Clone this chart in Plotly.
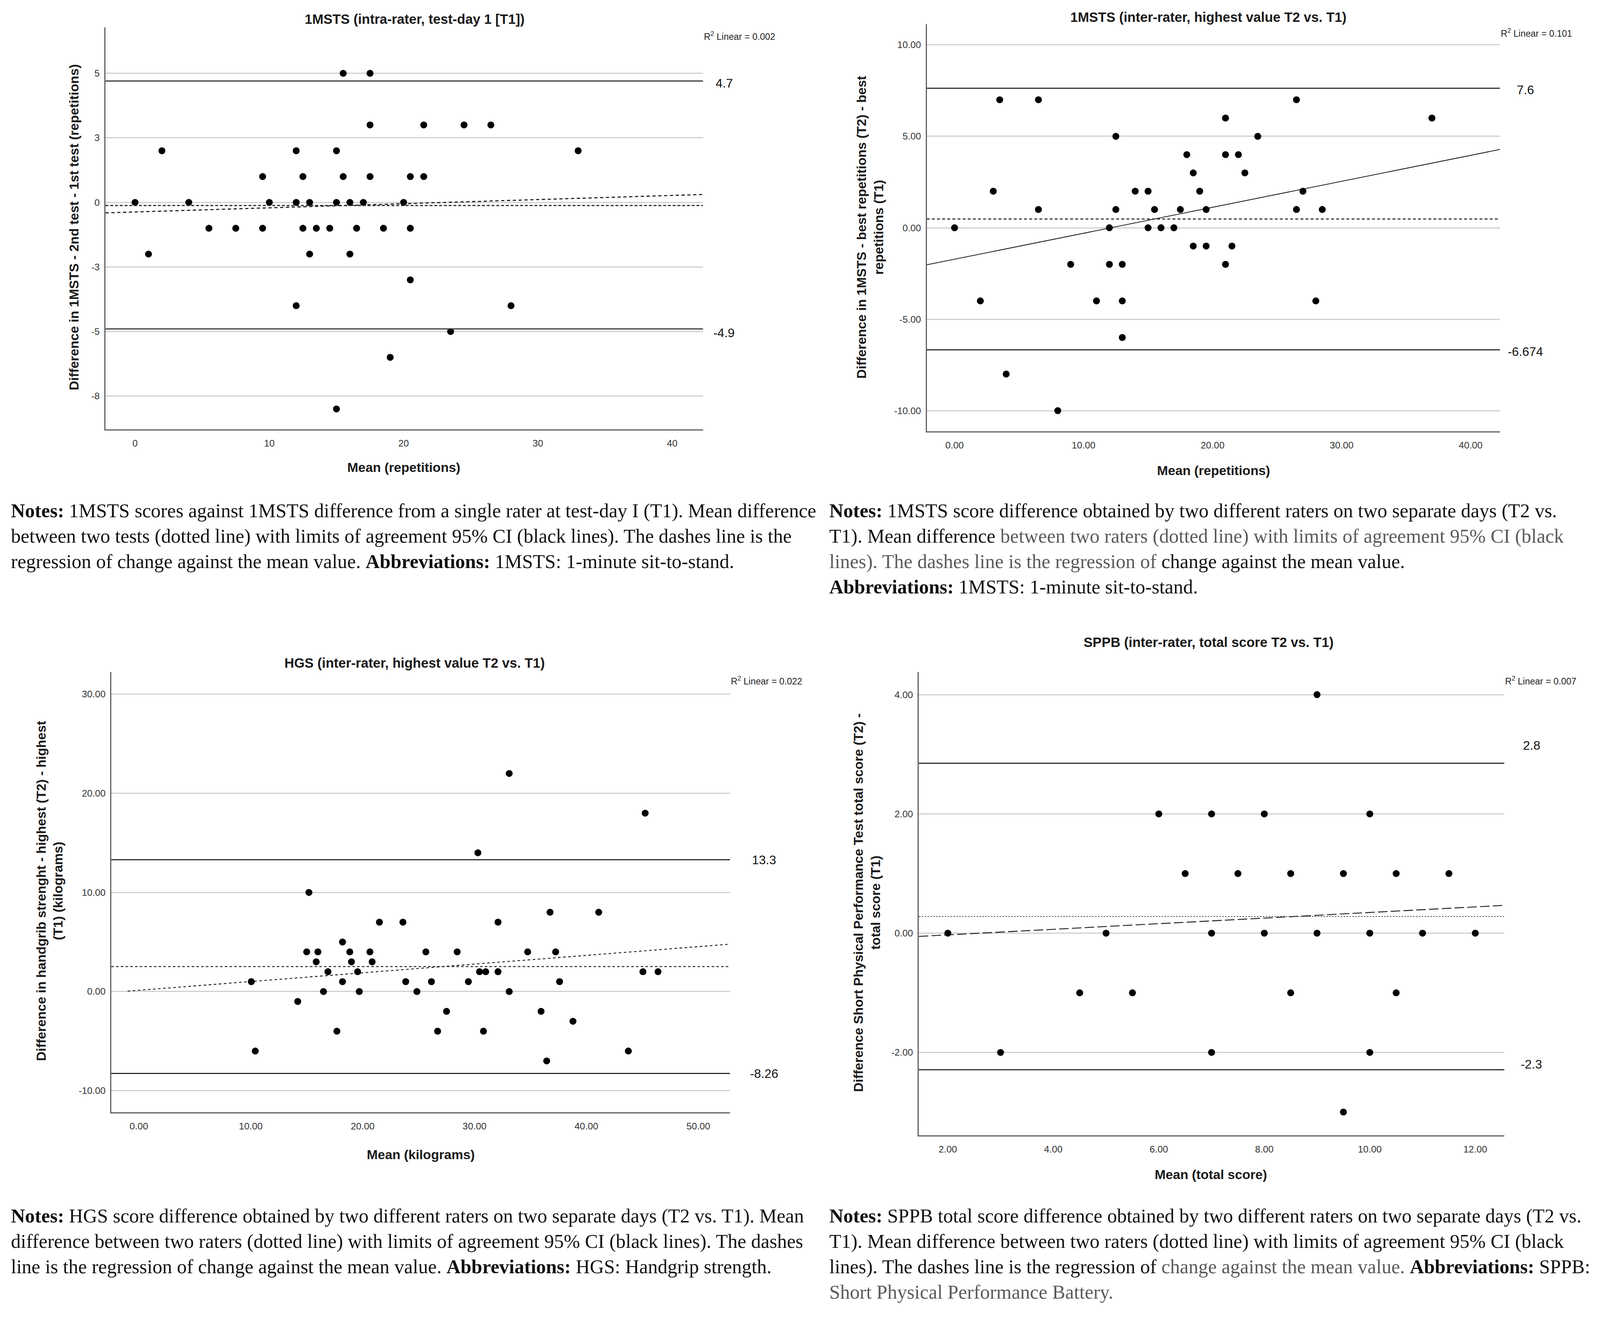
import plotly.graph_objects as go

# Layout is measured in pixels of the 4397x3371 reference and expressed as
# fractions of the page, so the figure fills the browser viewport exactly.
RW, RH = 4397, 3371
KX = 0.9347   # CSS px per reference px (sizes of fonts / marks / lines)
KY = 1.0      # vertical CSS px per reference px (small vertical nudges)


def fx(px):
    return px / RW


def fy(py):
    return 1 - py / RH


def s(v):
    return v * KX


# ---------------- data ----------------
# Panel 1: 1MSTS intra-rater
p1_mean = [15.5, 17.5,
           17.5, 21.5, 24.5, 26.5,
           2, 12, 15, 33,
           9.5, 12.5, 15.5, 17.5, 20.5, 21.5,
           0, 4, 10, 12, 13, 15, 16, 17, 20,
           5.5, 7.5, 9.5, 12.5, 13.5, 14.5, 16.5, 18.5, 20.5,
           1, 13, 16,
           20.5,
           12, 28,
           23.5,
           19,
           15]
p1_diff = [5, 5,
           3, 3, 3, 3,
           2, 2, 2, 2,
           1, 1, 1, 1, 1, 1,
           0, 0, 0, 0, 0, 0, 0, 0, 0,
           -1, -1, -1, -1, -1, -1, -1, -1, -1,
           -2, -2, -2,
           -3,
           -4, -4,
           -5,
           -6,
           -8]
p1_loa = [4.7, -4.9]
p1_loa_labels = ["4.7", "-4.9"]
p1_meandiff = -0.12
p1_reg = (-0.37, 0.016)   # intercept, slope
p1_r2 = "0.002"

# Panel 2: 1MSTS inter-rater
p2_mean = [3.5, 6.5, 26.5,
           21, 37,
           12.5, 23.5,
           18, 21, 22,
           18.5, 22.5,
           3, 14, 15, 19, 27,
           6.5, 12.5, 15.5, 17.5, 19.5, 26.5, 28.5,
           0, 12, 15, 16, 17,
           18.5, 19.5, 21.5,
           9, 12, 13, 21,
           2, 11, 13, 28,
           13,
           4,
           8]
p2_diff = [7, 7, 7,
           6, 6,
           5, 5,
           4, 4, 4,
           3, 3,
           2, 2, 2, 2, 2,
           1, 1, 1, 1, 1, 1, 1,
           0, 0, 0, 0, 0,
           -1, -1, -1,
           -2, -2, -2, -2,
           -4, -4, -4, -4,
           -6,
           -8,
           -10]
p2_loa = [7.63, -6.674]
p2_loa_labels = ["7.6", "-6.674"]
p2_meandiff = 0.48
p2_reg = (-1.72, 0.142)
p2_r2 = "0.101"

# Panel 3: HGS inter-rater
p3_mean = [33.1, 45.25, 30.3, 15.2, 21.5, 23.6, 32.1, 36.75, 41.1, 18.2,
           15.0, 16.0, 18.85, 20.65, 25.65, 28.45, 34.75, 37.25,
           15.85, 19.0, 20.85,
           16.9, 19.55, 30.45, 31.0, 32.1, 45.05, 46.4,
           10.05, 18.2, 23.85, 26.15, 29.45, 37.6,
           16.5, 19.7, 24.85, 33.1,
           14.2,
           27.5, 35.95,
           38.8,
           17.7, 26.7, 30.8,
           10.4, 43.75,
           36.45]
p3_diff = [22, 18, 14, 10, 7, 7, 7, 8, 8, 5,
           4, 4, 4, 4, 4, 4, 4, 4,
           3, 3, 3,
           2, 2, 2, 2, 2, 2, 2,
           1, 1, 1, 1, 1, 1,
           0, 0, 0, 0,
           -1,
           -2, -2,
           -3,
           -4, -4, -4,
           -6, -6,
           -7]
p3_loa = [13.3, -8.26]
p3_loa_labels = ["13.3", "-8.26"]
p3_meandiff = 2.52
p3_reg = (0.13, 0.088)
p3_r2 = "0.022"

# Panel 4: SPPB inter-rater
p4_mean = [9,
           6, 7, 8, 10,
           6.5, 7.5, 8.5, 9.5, 10.5, 11.5,
           2, 5, 7, 8, 9, 10, 11, 12,
           4.5, 5.5, 8.5, 10.5,
           3, 7, 10,
           9.5]
p4_diff = [4,
           2, 2, 2, 2,
           1, 1, 1, 1, 1, 1,
           0, 0, 0, 0, 0, 0, 0, 0,
           -1, -1, -1, -1,
           -2, -2, -2,
           -3]
p4_loa = [2.85, -2.29]
p4_loa_labels = ["2.8", "-2.3"]
p4_meandiff = 0.28
p4_reg = (-0.123, 0.047)
p4_r2 = "0.007"

titles = ["1MSTS (intra-rater, test-day 1 [T1])",
          "1MSTS (inter-rater, highest value T2 vs. T1)",
          "HGS (inter-rater, highest value T2 vs. T1)",
          "SPPB (inter-rater, total score T2 vs. T1)"]
xtitles = ["Mean (repetitions)", "Mean (repetitions)", "Mean (kilograms)", "Mean (total score)"]
ytitles = ["Difference in 1MSTS - 2nd test - 1st test (repetitions)",
           "Difference in 1MSTS - best repetitions (T2) - best<br>repetitions (T1)",
           "Difference in handgrib strenght - highest (T2) - highest<br>(T1) (kilograms)",
           "Difference Short Physical Performance Test total score (T2) -<br>total score (T1)"]

p1_xticks = [0, 10, 20, 30, 40]
p1_xticktext = ["0", "10", "20", "30", "40"]
p1_yticks = [-7.5, -5, -2.5, 0, 2.5, 5]
p1_yticktext = ["-8", "-5", "-3", "0", "3", "5"]
p2_xticks = [0, 10, 20, 30, 40]
p2_yticks = [-10, -5, 0, 5, 10]
p3_xticks = [0, 10, 20, 30, 40, 50]
p3_yticks = [-10, 0, 10, 20, 30]
p4_xticks = [2, 4, 6, 8, 10, 12]
p4_yticks = [-2, 0, 2, 4]

# ---------------- styling ----------------
GRAY = "#5a5a5a"


def dash(a, b):
    return "%.1fpx,%.1fpx" % (s(a), s(b))


panels = [
    dict(x=p1_mean, y=p1_diff, loa=p1_loa, lab=p1_loa_labels, md=p1_meandiff, reg=p1_reg, r2=p1_r2,
         xt=p1_xticks, xtt=p1_xticktext, yt=p1_yticks, ytt=p1_yticktext,
         box=(290, 70, 1932, 1099), xr=[-2.2, 42.3], yr=[-8.79, 6.78], regx0=None,
         reg_dash=dash(9, 7), reg_w=3, loa_w=3.5, loa_c="#454545", md_dash=dash(8, 5), md_w=3,
         labdx=58, labshift=[-6, -10], title_xy=(1139, 49), xt_xy=(1110, 1196), yt_xy=(203, 582)),
    dict(x=p2_mean, y=p2_diff, loa=p2_loa, lab=p2_loa_labels, md=p2_meandiff, reg=p2_reg, r2=p2_r2,
         xt=p2_xticks, xtt=["%.2f" % v for v in p2_xticks], yt=p2_yticks, ytt=["%.2f" % v for v in p2_yticks],
         box=(2547, 62, 4122, 1104), xr=[-2.15, 42.27], yr=[-11.13, 11.13], regx0=None,
         reg_dash="solid", reg_w=2.2, loa_w=3, loa_c="#1e1e1e", md_dash=dash(8, 6), md_w=3,
         labdx=70, labshift=[-4, -5], title_xy=(3321, 44), xt_xy=(3335, 1204), yt_xy=(2391, 582)),
    dict(x=p3_mean, y=p3_diff, loa=p3_loa, lab=p3_loa_labels, md=p3_meandiff, reg=p3_reg, r2=p3_r2,
         xt=p3_xticks, xtt=["%.2f" % v for v in p3_xticks], yt=p3_yticks, ytt=["%.2f" % v for v in p3_yticks],
         box=(306, 1720, 2006, 2847), xr=[-2.46, 52.83], yr=[-12.18, 32.24], regx0=-1.0,
         reg_dash=dash(7, 7), reg_w=2.5, loa_w=3, loa_c="#1e1e1e", md_dash=dash(7, 6), md_w=2.5,
         labdx=94, labshift=[0, 0], title_xy=(1139, 1697), xt_xy=(1157, 2955), yt_xy=(136, 2280)),
    dict(x=p4_mean, y=p4_diff, loa=p4_loa, lab=p4_loa_labels, md=p4_meandiff, reg=p4_reg, r2=p4_r2,
         xt=p4_xticks, xtt=["%.2f" % v for v in p4_xticks], yt=p4_yticks, ytt=["%.2f" % v for v in p4_yticks],
         box=(2525, 1720, 4134, 2906), xr=[1.45, 12.55], yr=[-3.39, 4.38], regx0=None,
         reg_dash=dash(26, 9), reg_w=2.5, loa_w=3, loa_c="#1e1e1e", md_dash=dash(4, 4), md_w=2,
         labdx=75, labshift=[46, 14], title_xy=(3321, 1644), xt_xy=(3328, 3006), yt_xy=(2382, 2310)),
]

SANS = "Liberation Sans, Arial, sans-serif"
SERIF = "Liberation Serif, Times New Roman, serif"

fig = go.Figure()
layout = dict(autosize=True, margin=dict(l=0, r=0, t=0, b=0, pad=0),
              paper_bgcolor="white", plot_bgcolor="white", showlegend=False)
annotations = []
shapes = []

for i, p in enumerate(panels):
    n = i + 1
    xa = "x" if n == 1 else "x%d" % n
    ya = "y" if n == 1 else "y%d" % n
    L, T, R, B = p["box"]
    layout["xaxis" if n == 1 else "xaxis%d" % n] = dict(
        domain=[fx(L), fx(R)], range=p["xr"], anchor=ya, showgrid=False, zeroline=False,
        showline=True, linecolor="#606060", linewidth=s(3), ticks="",
        tickvals=p["xt"], ticktext=p["xtt"], tickfont=dict(family=SANS, size=s(26), color="#333333"),
        ticklabelstandoff=int(round(12 * KY)))
    layout["yaxis" if n == 1 else "yaxis%d" % n] = dict(
        domain=[fy(B), fy(T)], range=p["yr"], anchor=xa, showgrid=True,
        gridcolor="#d0d0d0", gridwidth=s(3), zeroline=False,
        showline=True, linecolor="#606060", linewidth=s(3), ticks="",
        tickvals=p["yt"], ticktext=p["ytt"], tickfont=dict(family=SANS, size=s(26), color="#333333"),
        ticklabelstandoff=int(round(s(7))))

    # limits of agreement
    for v in p["loa"]:
        shapes.append(dict(type="line", xref=xa + " domain", yref=ya, x0=0, x1=1, y0=v, y1=v,
                           line=dict(color=p["loa_c"], width=s(p["loa_w"]))))
    # mean difference
    shapes.append(dict(type="line", xref=xa + " domain", yref=ya, x0=0, x1=1, y0=p["md"], y1=p["md"],
                       line=dict(color="#2a2a2a", width=s(p["md_w"]), dash=p["md_dash"])))
    # regression line
    a, b = p["reg"]
    x0 = p["regx0"] if p["regx0"] is not None else p["xr"][0]
    x1 = p["xr"][1]
    fig.add_trace(go.Scatter(x=[x0, x1], y=[a + b * x0, a + b * x1], mode="lines",
                             line=dict(color="#1e1e1e", width=s(p["reg_w"]), dash=p["reg_dash"]),
                             xaxis=xa, yaxis=ya, hoverinfo="skip", cliponaxis=False))
    # points
    fig.add_trace(go.Scatter(x=p["x"], y=p["y"], mode="markers",
                             marker=dict(color="black", size=s(19), line=dict(width=0)),
                             xaxis=xa, yaxis=ya))

    # LoA labels
    for v, lab, ys in zip(p["loa"], p["lab"], p["labshift"]):
        annotations.append(dict(text=lab, xref="paper", yref=ya, x=fx(R + p["labdx"]), y=v,
                                yshift=ys * KY, showarrow=False, xanchor="center", yanchor="middle",
                                font=dict(family=SANS, size=s(34), color="#111111")))
    # R2 text
    annotations.append(dict(text="R<sup>2</sup> Linear = " + p["r2"], xref="paper", yref="paper",
                            x=fx(R), y=fy(T + 22), showarrow=False, xanchor="left",
                            yanchor="middle", font=dict(family=SANS, size=s(25), color="#222222")))
    # title
    tx, ty = p["title_xy"]
    annotations.append(dict(text="<b>%s</b>" % titles[i], xref="paper", yref="paper",
                            x=fx(tx), y=fy(ty), showarrow=False, xanchor="center", yanchor="middle",
                            font=dict(family=SANS, size=s(37), color="#1a1a1a")))
    # x title
    tx, ty = p["xt_xy"]
    annotations.append(dict(text="<b>%s</b>" % xtitles[i], xref="paper", yref="paper",
                            x=fx(tx), y=fy(ty), showarrow=False, xanchor="center", yanchor="middle",
                            font=dict(family=SANS, size=s(36), color="#1a1a1a")))
    # y title
    tx, ty = p["yt_xy"]
    annotations.append(dict(text="<b>%s</b>" % ytitles[i], xref="paper", yref="paper",
                            x=fx(tx), y=fy(ty), showarrow=False, xanchor="center", yanchor="middle",
                            textangle=-90, font=dict(family=SANS, size=s(36), color="#1a1a1a")))

# ---------------- notes ----------------
def g(t):
    return "<span style='color:%s'>%s</span>" % (GRAY, t)


notes = [
    (28, 1307, [
        "<b>Notes:</b> 1MSTS scores against 1MSTS difference from a single rater at test-day I (T1). Mean difference",
        "between two tests (dotted line) with limits of agreement 95% CI (black lines). The dashes line is the",
        "regression of change against the mean value. <b>Abbreviations:</b> 1MSTS: 1-minute sit-to-stand.",
    ]),
    (2277, 1307, [
        "<b>Notes:</b> 1MSTS score difference obtained by two different raters on two separate days (T2 vs.",
        "T1). Mean difference " + g("between two raters (dotted line) with limits of agreement 95% CI (black"),
        g("lines). The dashes line is the regression of") + " change against the mean value.",
        "<b>Abbreviations:</b> 1MSTS: 1-minute sit-to-stand.",
    ]),
    (28, 3112, [
        "<b>Notes:</b> HGS score difference obtained by two different raters on two separate days (T2 vs. T1). Mean",
        "difference between two raters (dotted line) with limits of agreement 95% CI (black lines). The dashes",
        "line is the regression of change against the mean value. <b>Abbreviations:</b> HGS: Handgrip strength.",
    ]),
    (2277, 3112, [
        "<b>Notes:</b> SPPB total score difference obtained by two different raters on two separate days (T2 vs.",
        "T1). Mean difference between two raters (dotted line) with limits of agreement 95% CI (black",
        "lines). The dashes line is the regression of " + g("change against the mean value.") + " <b>Abbreviations:</b> SPPB:",
        g("Short Physical Performance Battery."),
    ]),
]
LINE = 65
for x0, y0, lines in notes:
    for kk, t in enumerate(lines):
        annotations.append(dict(text=t, xref="paper", yref="paper", x=fx(x0), y=fy(y0 + kk * LINE),
                                showarrow=False, xanchor="left", yanchor="middle",
                                font=dict(family=SERIF, size=s(53.5), color="#111111")))

layout["annotations"] = annotations
layout["shapes"] = shapes
fig.update_layout(**layout)
fig.write_html("out.html", default_width="100vw", default_height="100vh",
               config={"displayModeBar": False, "responsive": True},
               post_script="document.body.style.margin='0';document.body.style.overflow='hidden';")
